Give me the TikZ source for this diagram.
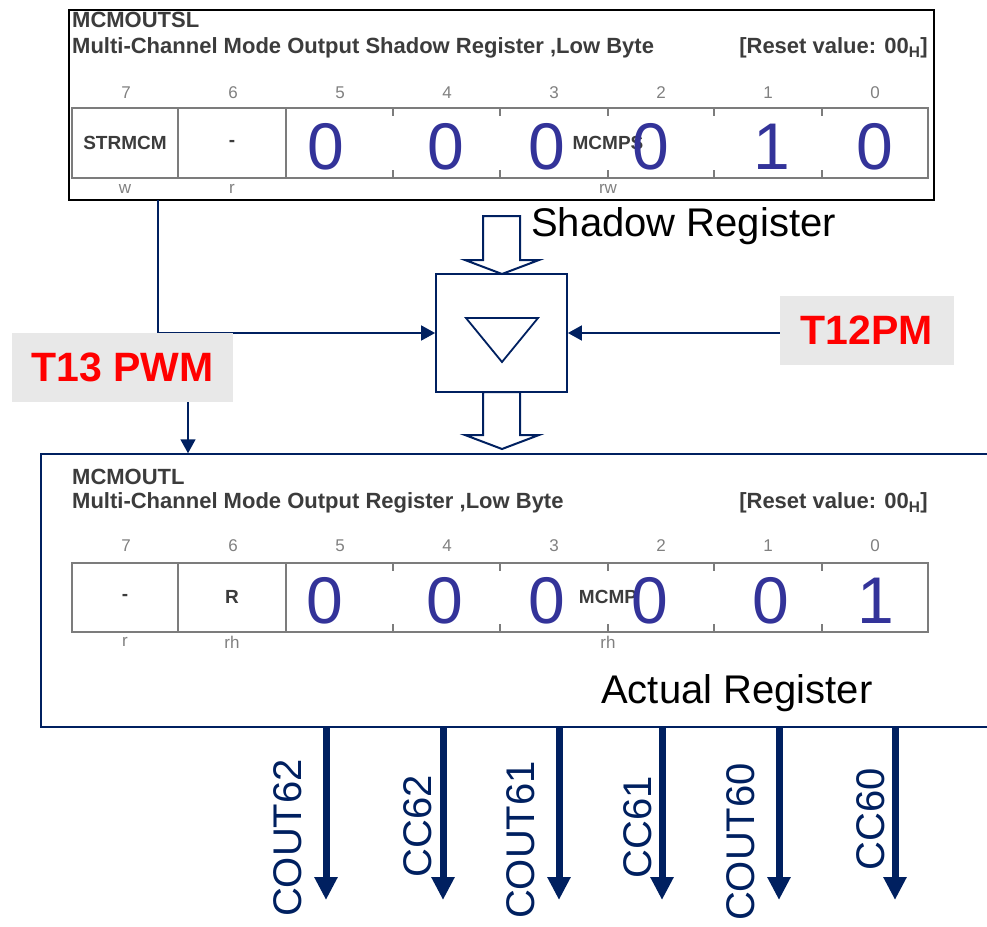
\documentclass[tikz,border=0pt]{standalone}
\usepackage{fontspec}
\setmainfont{Liberation Sans}
\usetikzlibrary{arrows.meta,positioning,calc}
\definecolor{navy}{HTML}{002060}
\definecolor{regline}{HTML}{7C7C7C}
\definecolor{regtext}{HTML}{3C3C3C}
\definecolor{bitblue}{HTML}{333399}
\definecolor{tagbg}{HTML}{E8E8E8}
\tikzset{regrow/.style={draw=regline,line width=2.5pt},
  reglab/.style={text=regtext,font=\bfseries\fontsize{19}{19}\selectfont,inner sep=0pt},
  reghead/.style={reglab,font=\bfseries\fontsize{22}{22}\selectfont},
  bitnum/.style={text=gray,font=\fontsize{17}{17}\selectfont,inner sep=0pt},
  bitval/.style={text=bitblue,font=\fontsize{66}{66}\selectfont,inner sep=0pt},
  tag/.style={fill=tagbg,text=red,font=\bfseries\fontsize{41}{41}\selectfont,inner sep=0pt,minimum height=69pt},
  sig/.style={draw=navy,line width=1.8pt,-{Triangle[length=14pt,width=15pt]}},
  outarr/.style={draw=navy,line width=7pt,-{Triangle[length=23pt,width=22pt]}},
  blk/.style={draw=navy,line width=2pt,fill=white,line join=miter}}

\begin{document}
\begin{tikzpicture}[x=1pt,y=-1pt,
  big/.style={font=\fontsize{40}{40}\selectfont,inner sep=0pt}]
\useasboundingbox (0,0) rectangle (987,926);
% shadow register
\node[draw,line width=2pt,minimum width=865pt,minimum height=190pt,inner sep=0pt] (shadow) at (501.5,105) {};
\begin{scope}
 \node[reghead,anchor=west] (sname) at (72,20) {MCMOUTSL};
 \node[reghead,anchor=west] (sdesc) at (72,48) {Multi-Channel Mode Output Shadow Register ,Low Byte};
 \node[reghead,anchor=east] (sreset) at (928,48) {[Reset value: 00\textsubscript{H}]};
 \draw[regrow] (72,108) rectangle (928,178) (178,108)--(178,178) (286,108)--(286,178);
 \foreach \x in {393,500,608,714,822}{\draw[regrow,line width=1.5pt] (\x,108)--++(0,8) (\x,178)--++(0,-8);}
 \foreach \b in {0,...,7}{\node[bitnum] (sb\b) at ({875-107*\b},93) {\b};}
 \node[reglab] (sf7) at (125,143) {STRMCM}; \node[reglab] (sf6) at (232,143) {-};
 \node[reglab] (sf0) at (608,143) {MCMPS};
 \node[bitnum] (sa7) at (125,189) {w}; \node[bitnum] (sa6) at (232,189) {r}; \node[bitnum] (sa0) at (608,189) {rw};
 \foreach \x/\v [count=\i] in {326/0,446/0,547/0,651/0,772/1,875/0}{\node[bitval] (sv\i) at (\x,147) {\v};}
\end{scope}
\node[big,anchor=base west] (slab) at (531,236) {Shadow Register};
% transfer gate
\node[draw=navy,line width=1.8pt,minimum width=131pt,minimum height=118pt,inner sep=0pt] (gate) at (501.5,333) {};
\draw[navy,line width=1.8pt,line join=miter] (466,318)--(538,318)--(502,362)--cycle;
\draw[blk] (483,216)--(520,216)--(520,260)--(539,260)--(502,274)--(465,260)--(483,260)--cycle;
\draw[blk] (483,392)--(520,392)--(520,435)--(539,435)--(502,449)--(465,435)--(483,435)--cycle;
\coordinate (tap) at (158,200);
\draw[sig] (tap) |- (gate.west);
\node[tag,minimum width=174pt] (t12) at (867,330) {T12PM};
\draw[sig] (t12.west |- gate.east) -- (gate.east);
\node[tag,minimum width=221pt] (t13) at (122.5,367.5) {T13 PWM};
% actual register
\node[draw=navy,line width=1.5pt,minimum width=959pt,minimum height=273pt,inner sep=0pt] (actual) at (520.5,590.5) {};
\draw[sig] ([xshift=65.5pt]t13.south) -- ([xshift=65.5pt]t13.south |- actual.north);
\begin{scope}[yshift=-455pt]
 \node[reghead,anchor=west] (aname) at (72,22) {MCMOUTL};
 \node[reghead,anchor=west] (adesc) at (72,48) {Multi-Channel Mode Output Register ,Low Byte};
 \node[reghead,anchor=east] (areset) at (928,48) {[Reset value: 00\textsubscript{H}]};
 \draw[regrow] (72,108) rectangle (928,177) (178,108)--(178,177) (286,108)--(286,177);
 \foreach \x in {393,500,608,714,822}{\draw[regrow,line width=1.5pt] (\x,108)--++(0,8) (\x,177)--++(0,-8);}
 \foreach \b in {0,...,7}{\node[bitnum] (ab\b) at ({875-107*\b},91) {\b};}
 \node[reglab] (af7) at (125,142) {-}; \node[reglab] (af6) at (232,142) {R};
 \node[reglab] (af0) at (608,142) {MCMP};
 \node[bitnum] (aa7) at (125,187) {r}; \node[bitnum] (aa6) at (232,187) {rh}; \node[bitnum] (aa0) at (608,187) {rh};
 \foreach \x/\v [count=\i] in {325/0,445/0,547/0,650/0,771/0,876/1}{\node[bitval] (av\i) at (\x,146) {\v};}
\end{scope}
\node[big,anchor=base west] (alab) at (601,703) {Actual Register};
% outputs
\foreach \x/\lab/\lx/\ly [count=\i] in {326/COUT62/288/838,443/CC62/418/826,559/COUT61/521/840,
  662/CC61/638/827,779/COUT60/741/842,895/CC60/871/819}{
 \coordinate (o\i) at (\x,900);
 \draw[outarr] (o\i |- actual.south) -- (o\i);
 \node[big,rotate=90,text=navy] (ol\i) at (\lx,\ly) {\lab};}
\end{tikzpicture}
\end{document}
